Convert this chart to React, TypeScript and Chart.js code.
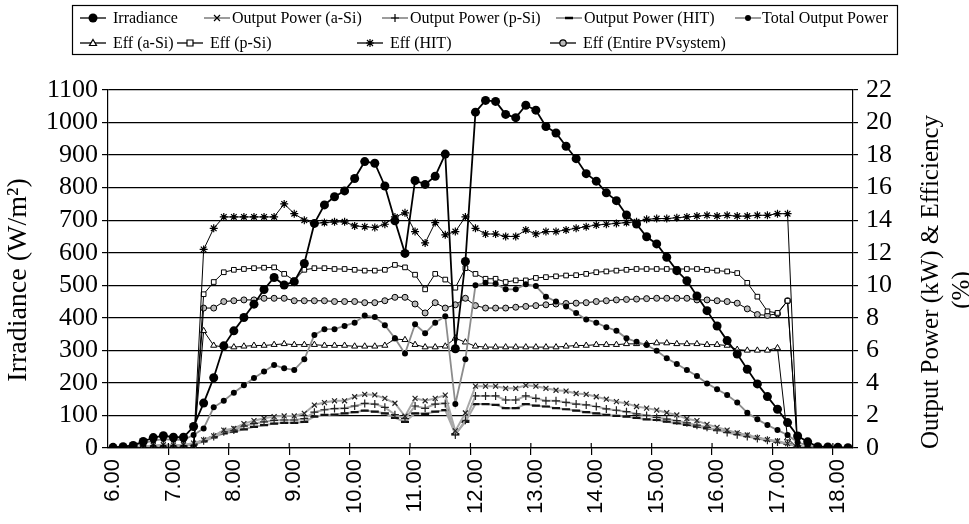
import React, { useEffect, useRef } from "react";
import { Chart, registerables } from "chart.js";

Chart.register(...registerables);

const times = [
  "6.00", "6.10", "6.20", "6.30", "6.40", "6.50",
  "7.00", "7.10", "7.20", "7.30", "7.40", "7.50",
  "8.00", "8.10", "8.20", "8.30", "8.40", "8.50",
  "9.00", "9.10", "9.20", "9.30", "9.40", "9.50",
  "10.00", "10.10", "10.20", "10.30", "10.40", "10.50",
  "11.00", "11.10", "11.20", "11.30", "11.40", "11.50",
  "12.00", "12.10", "12.20", "12.30", "12.40", "12.50",
  "13.00", "13.10", "13.20", "13.30", "13.40", "13.50",
  "14.00", "14.10", "14.20", "14.30", "14.40", "14.50",
  "15.00", "15.10", "15.20", "15.30", "15.40", "15.50",
  "16.00", "16.10", "16.20", "16.30", "16.40", "16.50",
  "17.00", "17.10", "17.20", "17.30", "17.40", "17.50",
  "18.00", "18.10",
];

const irradiance = [
  2, 4, 8, 20, 32, 38, 33, 33, 66,
  138, 216, 314, 360, 401, 442, 487, 524, 501, 511,
  567, 690, 747, 772, 790, 828, 880, 875, 805, 698,
  598, 822, 810, 835, 903, 305, 573, 1032, 1068, 1065,
  1025, 1015, 1053, 1038, 988, 968, 927, 889, 843, 820,
  784, 760, 716, 688, 649, 627, 586, 545, 514, 467,
  422, 375, 330, 289, 242, 197, 158, 119, 78, 37,
  19, 4, 3, 2, 1,
];

const outASi = [
  0.02, 0.03, 0.05, 0.1, 0.15, 0.2, 0.18, 0.2, 0.3,
  0.5, 0.75, 1.1, 1.2, 1.5, 1.68, 1.83, 1.93, 1.97, 1.97,
  2.13, 2.64, 2.79, 2.9, 2.9, 3.15, 3.3, 3.26, 3.05, 2.75,
  1.95, 3.05, 2.9, 3.05, 3.25, 1.05, 2.15, 3.8, 3.8, 3.8,
  3.67, 3.67, 3.85, 3.8, 3.67, 3.55, 3.5, 3.35, 3.3, 3.15,
  3.0, 2.85, 2.74, 2.55, 2.45, 2.33, 2.17, 2.03, 1.8, 1.68,
  1.45, 1.27, 1.1, 0.93, 0.8, 0.64, 0.52, 0.43, 0.27, 0.12,
  0.05, 0.02, 0.01, 0, 0,
];

const outPSi = [
  0.02, 0.03, 0.04, 0.08, 0.12, 0.15, 0.14, 0.15, 0.25,
  0.45, 0.7, 1.0, 1.1, 1.35, 1.5, 1.6, 1.7, 1.72, 1.72,
  1.8, 2.2, 2.35, 2.42, 2.44, 2.58, 2.74, 2.7, 2.5, 2.05,
  1.8, 2.58, 2.44, 2.7, 2.74, 0.8, 1.7, 3.2, 3.2, 3.2,
  2.95, 2.95, 3.2, 3.05, 2.9, 2.9, 2.8, 2.7, 2.65, 2.55,
  2.4, 2.32, 2.23, 2.1, 2.0, 1.88, 1.78, 1.68, 1.55, 1.4,
  1.27, 1.1, 0.95, 0.82, 0.7, 0.58, 0.47, 0.37, 0.25, 0.1,
  0.04, 0.02, 0.01, 0, 0,
];

const outHIT = [
  0.02, 0.03, 0.04, 0.08, 0.1, 0.12, 0.12, 0.13, 0.2,
  0.4, 0.65, 0.9, 1.0, 1.15, 1.3, 1.4, 1.5, 1.55, 1.55,
  1.6, 1.93, 2.03, 2.05, 2.13, 2.2, 2.3, 2.23, 2.13, 1.85,
  1.6, 2.13, 2.1, 2.23, 2.33, 0.85, 1.6, 2.7, 2.7, 2.65,
  2.45, 2.45, 2.7, 2.6, 2.55, 2.45, 2.38, 2.3, 2.2, 2.13,
  2.03, 1.98, 1.93, 1.85, 1.76, 1.72, 1.62, 1.52, 1.42, 1.31,
  1.2, 1.1, 1.0, 0.9, 0.75, 0.6, 0.48, 0.37, 0.25, 0.1,
  0.04, 0.02, 0.01, 0, 0,
];

const outTotal = [
  0.05, 0.08, 0.15, 0.3, 0.45, 0.55, 0.5, 0.5, 0.8,
  1.2, 2.5, 2.9, 3.4, 3.85, 4.3, 4.7, 5.1, 4.9, 4.8,
  5.45, 6.95, 7.3, 7.3, 7.5, 7.7, 8.15, 8.05, 7.55, 6.75,
  5.8, 7.6, 7.05, 7.7, 8.1, 2.7, 5.45, 10.0, 10.15, 10.1,
  9.75, 9.75, 10.07, 9.95, 9.3, 9.0, 8.7, 8.3, 7.9, 7.7,
  7.42, 7.21, 6.74, 6.53, 6.33, 5.98, 5.51, 5.16, 4.79, 4.43,
  3.97, 3.61, 3.26, 2.79, 2.17, 1.76, 1.41, 1.1, 0.8, 0.35,
  0.15, 0.05, 0.03, 0.02, 0.01,
];

const effASi = [
  0, 0, 0, 0, 0, 0, 0, 0, 0,
  7.2, 6.3, 6.2, 6.2, 6.25, 6.3, 6.3, 6.35, 6.4, 6.35,
  6.35, 6.35, 6.3, 6.3, 6.3, 6.25, 6.25, 6.25, 6.3, 6.7,
  6.65, 6.35, 6.2, 6.2, 6.25, 6.75, 6.5, 6.25, 6.2, 6.2,
  6.2, 6.2, 6.2, 6.2, 6.2, 6.2, 6.25, 6.3, 6.3, 6.35,
  6.35, 6.35, 6.4, 6.4, 6.4, 6.45, 6.45, 6.4, 6.4, 6.4,
  6.35, 6.35, 6.3, 6.05, 6.0, 6.0, 6.0, 6.15, 0.6, 0,
  0, 0, 0, 0, 0,
];

const effPSi = [
  0, 0, 0, 0, 0, 0, 0, 0, 0,
  9.45, 10.2, 10.8, 10.95, 11.0, 11.05, 11.08, 11.1, 10.7, 10.3,
  10.95, 11.05, 11.05, 11.0, 11.0, 10.95, 10.9, 10.9, 10.95, 11.25,
  11.1, 10.65, 9.75, 10.7, 10.35, 9.85, 11.05, 10.7, 10.4, 10.4,
  10.2, 10.3, 10.3, 10.45, 10.5, 10.55, 10.6, 10.62, 10.7, 10.8,
  10.85, 10.9, 10.95, 11.0, 11.0, 11.0, 11.0, 11.0, 11.0, 11.0,
  10.95, 10.9, 10.85, 10.75, 10.15, 9.3, 8.4, 8.3, 9.05, 0,
  0, 0, 0, 0, 0,
];

const effHIT = [
  0, 0, 0, 0, 0, 0, 0, 0, 0,
  12.2, 13.5, 14.2, 14.2, 14.2, 14.2, 14.2, 14.2, 15.0, 14.4,
  14.0, 13.8, 13.85, 13.9, 13.9, 13.65, 13.6, 13.55, 13.75, 14.2,
  14.45, 13.3, 12.6, 13.85, 13.1, 13.3, 14.2, 13.5, 13.15, 13.15,
  13.0, 13.0, 13.4, 13.15, 13.3, 13.3, 13.4, 13.5, 13.6, 13.7,
  13.75, 13.8, 13.85, 13.9, 14.05, 14.1, 14.1, 14.15, 14.2, 14.25,
  14.3, 14.25, 14.3, 14.25, 14.25, 14.3, 14.3, 14.4, 14.4, 0,
  0, 0, 0, 0, 0,
];

const effEntire = [
  0, 0, 0, 0, 0, 0, 0, 0, 0,
  8.6, 8.6, 9.0, 9.05, 9.1, 9.1, 9.2, 9.2, 9.2, 9.05,
  9.05, 9.05, 9.05, 9.0, 9.0, 9.0, 8.93, 8.93, 9.05, 9.26,
  9.26, 8.85, 8.3, 8.93, 8.6, 8.8, 9.2, 8.75, 8.6, 8.6,
  8.6, 8.65, 8.7, 8.75, 8.8, 8.85, 8.88, 8.9, 8.93, 9.0,
  9.05, 9.1, 9.13, 9.15, 9.18, 9.2, 9.2, 9.2, 9.2, 9.1,
  9.1, 9.05, 9.0, 8.9, 8.55, 8.2, 8.15, 8.25, 9.05, 0,
  0, 0, 0, 0, 0,
];

const SERIF = "'Liberation Serif', 'Times New Roman', serif";
const SANS = "'Liberation Sans', Arial, sans-serif";

type MarkerKind = "bigdot" | "x" | "plus" | "dash" | "dot" | "tri" | "square" | "star" | "ocircle";

function drawMarker(ctx: CanvasRenderingContext2D, kind: MarkerKind, x: number, y: number) {
  ctx.save();
  ctx.strokeStyle = "#000";
  ctx.fillStyle = "#000";
  ctx.lineWidth = 1.2;
  ctx.beginPath();
  switch (kind) {
    case "bigdot":
      ctx.arc(x, y, 4.5, 0, Math.PI * 2);
      ctx.fill();
      break;
    case "dot":
      ctx.arc(x, y, 3, 0, Math.PI * 2);
      ctx.fill();
      break;
    case "x":
      ctx.moveTo(x - 3, y - 3); ctx.lineTo(x + 3, y + 3);
      ctx.moveTo(x + 3, y - 3); ctx.lineTo(x - 3, y + 3);
      ctx.stroke();
      break;
    case "plus":
      ctx.moveTo(x - 4, y); ctx.lineTo(x + 4, y);
      ctx.moveTo(x, y - 4); ctx.lineTo(x, y + 4);
      ctx.stroke();
      break;
    case "dash":
      ctx.lineWidth = 2.5;
      ctx.moveTo(x - 4, y); ctx.lineTo(x + 4, y);
      ctx.stroke();
      break;
    case "tri":
      ctx.moveTo(x, y - 3.5); ctx.lineTo(x + 3.5, y + 2.5); ctx.lineTo(x - 3.5, y + 2.5); ctx.closePath();
      ctx.fillStyle = "#fff"; ctx.fill(); ctx.stroke();
      break;
    case "square":
      ctx.rect(x - 3, y - 3, 6, 6);
      ctx.fillStyle = "#fff"; ctx.fill(); ctx.stroke();
      break;
    case "star":
      ctx.moveTo(x - 4, y); ctx.lineTo(x + 4, y);
      ctx.moveTo(x, y - 4); ctx.lineTo(x, y + 4);
      ctx.moveTo(x - 3, y - 3); ctx.lineTo(x + 3, y + 3);
      ctx.moveTo(x + 3, y - 3); ctx.lineTo(x - 3, y + 3);
      ctx.stroke();
      break;
    case "ocircle":
      ctx.arc(x, y, 3.2, 0, Math.PI * 2);
      ctx.fillStyle = "#bbb"; ctx.fill(); ctx.stroke();
      break;
  }
  ctx.restore();
}

const legendRows: { label: string; kind: MarkerKind; lineColor: string; mx: number; tx: number; row: number }[] = [
  { label: "Irradiance", kind: "bigdot", lineColor: "#000", mx: 93, tx: 113, row: 0 },
  { label: "Output Power (a-Si)", kind: "x", lineColor: "#666", mx: 217, tx: 232, row: 0 },
  { label: "Output Power (p-Si)", kind: "plus", lineColor: "#666", mx: 395, tx: 410, row: 0 },
  { label: "Output Power (HIT)", kind: "dash", lineColor: "#666", mx: 569, tx: 584, row: 0 },
  { label: "Total Output Power", kind: "dot", lineColor: "#666", mx: 748, tx: 762, row: 0 },
  { label: "Eff (a-Si)", kind: "tri", lineColor: "#000", mx: 93, tx: 113, row: 1 },
  { label: "Eff (p-Si)", kind: "square", lineColor: "#000", mx: 190, tx: 210, row: 1 },
  { label: "Eff (HIT)", kind: "star", lineColor: "#000", mx: 370, tx: 390, row: 1 },
  { label: "Eff (Entire PVsystem)", kind: "ocircle", lineColor: "#000", mx: 563, tx: 583, row: 1 },
];

const decorPlugin = {
  id: "decor",
  afterDraw(chart: any) {
    const ctx: CanvasRenderingContext2D = chart.ctx;
    const area = chart.chartArea;
    const xs = chart.scales.x;
    ctx.save();

    // legend box
    ctx.strokeStyle = "#000";
    ctx.lineWidth = 1.2;
    ctx.strokeRect(72.5, 5.5, 825, 49);
    ctx.font = `16px ${SERIF}`;
    ctx.textBaseline = "middle";
    ctx.fillStyle = "#000";
    for (const it of legendRows) {
      const y = it.row === 0 ? 18 : 43;
      ctx.beginPath();
      ctx.strokeStyle = it.lineColor;
      ctx.lineWidth = 1.3;
      ctx.moveTo(it.mx - 13, y);
      ctx.lineTo(it.mx + 13, y);
      ctx.stroke();
      drawMarker(ctx, it.kind, it.mx, y);
      ctx.fillStyle = "#000";
      ctx.textAlign = "left";
      ctx.fillText(it.label, it.tx, y + 1);
    }

    // small x tick marks above the axis line at each hour boundary
    ctx.strokeStyle = "#000";
    ctx.lineWidth = 1.2;
    for (let i = 1; i < times.length; i++) {
      if (!times[i].endsWith(".00")) continue;
      const bx = (xs.getPixelForValue(i - 1) + xs.getPixelForValue(i)) / 2;
      ctx.beginPath();
      ctx.moveTo(bx, area.bottom - 5);
      ctx.lineTo(bx, area.bottom);
      ctx.stroke();
    }

    // axis titles
    ctx.fillStyle = "#000";
    ctx.textAlign = "center";
    ctx.textBaseline = "middle";
    ctx.font = `28px ${SERIF}`;
    ctx.save();
    ctx.translate(19, 280);
    ctx.rotate(-Math.PI / 2);
    ctx.fillText("Irradiance (W/m\u00B2)", 0, 0);
    ctx.restore();

    ctx.font = `25px ${SERIF}`;
    ctx.save();
    ctx.translate(931, 282);
    ctx.rotate(-Math.PI / 2);
    ctx.fillText("Output Power (kW) & Efficiency", 0, 0);
    ctx.restore();
    ctx.save();
    ctx.translate(962, 290);
    ctx.rotate(-Math.PI / 2);
    ctx.fillText("(%)", 0, 0);
    ctx.restore();

    ctx.restore();
  },
};

export default function App() {
  const ref = useRef<HTMLCanvasElement | null>(null);

  useEffect(() => {
    if (!ref.current) return;
    const outLine = "#a8a8a8";
    const chart = new Chart(ref.current, {
      type: "line",
      data: {
        labels: times,
        datasets: [
          {
            label: "Irradiance", data: irradiance, yAxisID: "y",
            borderColor: "#000", borderWidth: 1.8, pointStyle: "circle", pointRadius: 4.5,
            pointBackgroundColor: "#000", pointBorderColor: "#000", pointBorderWidth: 0,
          },
          {
            label: "Total Output Power", data: outTotal, yAxisID: "y1",
            borderColor: "#8c8c8c", borderWidth: 1.8, pointStyle: "circle", pointRadius: 3,
            pointBackgroundColor: "#000", pointBorderColor: "#000", pointBorderWidth: 0,
          },
          {
            label: "Eff (HIT)", data: effHIT, yAxisID: "y1",
            borderColor: "#000", borderWidth: 1, pointStyle: "star", pointRadius: 4,
            pointBackgroundColor: "#000", pointBorderColor: "#000", pointBorderWidth: 1.2,
          },
          {
            label: "Eff (p-Si)", data: effPSi, yAxisID: "y1",
            borderColor: "#000", borderWidth: 1, pointStyle: "rect", pointRadius: 3.3,
            pointBackgroundColor: "#fff", pointBorderColor: "#000", pointBorderWidth: 1,
          },
          {
            label: "Eff (Entire PVsystem)", data: effEntire, yAxisID: "y1",
            borderColor: "#000", borderWidth: 1, pointStyle: "circle", pointRadius: 3,
            pointBackgroundColor: "#bbb", pointBorderColor: "#000", pointBorderWidth: 1,
          },
          {
            label: "Eff (a-Si)", data: effASi, yAxisID: "y1",
            borderColor: "#000", borderWidth: 1, pointStyle: "triangle", pointRadius: 3.5,
            pointBackgroundColor: "#fff", pointBorderColor: "#000", pointBorderWidth: 1,
          },
          {
            label: "Output Power (a-Si)", data: outASi, yAxisID: "y1",
            borderColor: outLine, borderWidth: 2, pointStyle: "crossRot", pointRadius: 3.5,
            pointBackgroundColor: "#000", pointBorderColor: "#222", pointBorderWidth: 1.2,
          },
          {
            label: "Output Power (p-Si)", data: outPSi, yAxisID: "y1",
            borderColor: outLine, borderWidth: 2, pointStyle: "cross", pointRadius: 4,
            pointBackgroundColor: "#000", pointBorderColor: "#222", pointBorderWidth: 1.2,
          },
          {
            label: "Output Power (HIT)", data: outHIT, yAxisID: "y1",
            borderColor: outLine, borderWidth: 2, pointStyle: "line", pointRadius: 4,
            pointBackgroundColor: "#000", pointBorderColor: "#111", pointBorderWidth: 2.2,
          },
        ],
      },
      options: {
        animation: false,
        responsive: false,
        maintainAspectRatio: false,
        layout: { padding: { top: 90, left: 0, right: 0, bottom: 0 } },
        elements: { line: { tension: 0 } },
        plugins: { legend: { display: false }, tooltip: { enabled: false }, title: { display: false } },
        scales: {
          x: {
            type: "category",
            offset: true,
            grid: {
              offset: true,
              drawOnChartArea: false,
              tickLength: 7,
              lineWidth: 1.2,
              color: (c: any) => {
                const i = c.index;
                return i > 0 && i < times.length && times[i].endsWith(".00") ? "#000" : "rgba(0,0,0,0)";
              },
            },
            border: { color: "#000", width: 1.2 },
            ticks: {
              autoSkip: false,
              minRotation: 90,
              maxRotation: 90,
              padding: 4,
              color: "#000",
              font: { family: SANS, size: 22 },
              callback: (_v: any, i: number) => (times[i].endsWith(".00") ? times[i] : ""),
            },
            afterFit: (s: any) => { s.height = 76; },
          },
          y: {
            position: "left",
            min: 0,
            max: 1100,
            ticks: {
              stepSize: 100, autoSkip: false, color: "#000", padding: 4,
              font: { family: SERIF, size: 26 },
              callback: (v: any) => String(v),
            },
            grid: { color: "#000", lineWidth: 1.2, tickLength: 6 },
            border: { color: "#000", width: 1.2 },
            afterFit: (s: any) => { s.width = 108; },
          },
          y1: {
            position: "right",
            min: 0,
            max: 22,
            ticks: {
              stepSize: 2, autoSkip: false, color: "#000", padding: 8,
              font: { family: SERIF, size: 26 },
              callback: (v: any) => String(v),
            },
            grid: { drawOnChartArea: false, color: "#000", lineWidth: 1.2, tickLength: 5 },
            border: { color: "#000", width: 1.2 },
            afterFit: (s: any) => { s.width = 116; },
          },
        },
      },
      plugins: [decorPlugin],
    });
    return () => chart.destroy();
  }, []);

  return (
    <div style={{ position: "fixed", left: 0, top: 0, width: 969, height: 524, background: "#fff" }}>
      <canvas ref={ref} width={969} height={524} style={{ width: 969, height: 524, display: "block" }} />
    </div>
  );
}
